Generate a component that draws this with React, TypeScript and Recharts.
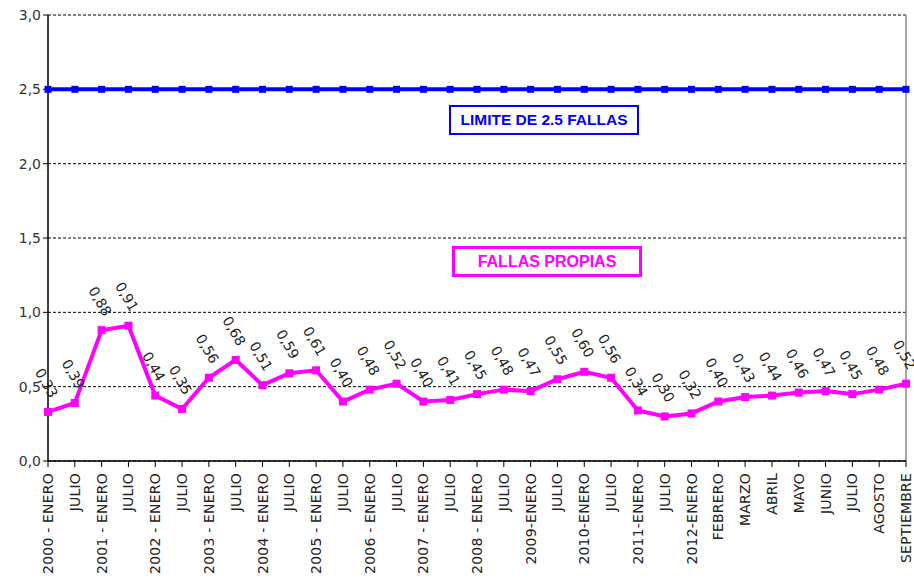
import React from "react";
import { LineChart, Line, XAxis, YAxis, CartesianGrid, ReferenceLine } from "recharts";

const categories = [
  "2000 - ENERO", "JULIO", "2001 - ENERO", "JULIO", "2002 - ENERO", "JULIO",
  "2003 - ENERO", "JULIO", "2004 - ENERO", "JULIO", "2005 - ENERO", "JULIO",
  "2006 - ENERO", "JULIO", "2007 - ENERO", "JULIO", "2008 - ENERO", "JULIO",
  "2009-ENERO", "JULIO", "2010-ENERO", "JULIO", "2011-ENERO", "JULIO",
  "2012-ENERO", "FEBRERO", "MARZO", "ABRIL", "MAYO", "JUNIO", "JULIO",
  "AGOSTO", "SEPTIEMBRE",
];

const fallasPropias = [
  0.33, 0.39, 0.88, 0.91, 0.44, 0.35, 0.56, 0.68, 0.51, 0.59, 0.61, 0.40,
  0.48, 0.52, 0.40, 0.41, 0.45, 0.48, 0.47, 0.55, 0.60, 0.56, 0.34, 0.30,
  0.32, 0.40, 0.43, 0.44, 0.46, 0.47, 0.45, 0.48, 0.52,
];

const limite = [
  2.5, 2.5, 2.5, 2.5, 2.5, 2.5, 2.5, 2.5, 2.5, 2.5, 2.5, 2.5, 2.5, 2.5, 2.5,
  2.5, 2.5, 2.5, 2.5, 2.5, 2.5, 2.5, 2.5, 2.5, 2.5, 2.5, 2.5, 2.5, 2.5, 2.5,
  2.5, 2.5, 2.5,
];

const yTicks = [0, 0.5, 1.0, 1.5, 2.0, 2.5, 3.0];

const data = categories.map((c, i) => ({
  i,
  cat: c,
  propias: fallasPropias[i],
  limite: limite[i],
}));

const FONT = "'DejaVu Sans', sans-serif";

const fmt = (v: number, d: number) => v.toFixed(d).replace(".", ",");

const XTick = (props: any) => {
  const { x, y, payload } = props;
  const label = categories[payload.value];
  return (
    <text
      x={x + 5}
      y={y + 4}
      transform={`rotate(-90, ${x + 5}, ${y + 4})`}
      textAnchor="end"
      fontSize={14}
      letterSpacing={0.2}
      fontFamily={FONT}
      fill="#222"
    >
      {label}
    </text>
  );
};

const SquareDot = (color: string, size: number) => (props: any) => {
  const { cx, cy, index } = props;
  if (cx == null || cy == null) return <g key={index} />;
  return (
    <rect
      key={index}
      x={cx - size / 2}
      y={cy - size / 2}
      width={size}
      height={size}
      fill={color}
    />
  );
};

const DataLabel = (props: any) => {
  const { x, y, value, index } = props;
  const ax = x + 2;
  const ay = y - 13;
  return (
    <text
      key={index}
      x={ax}
      y={ay}
      transform={`rotate(60, ${ax}, ${ay})`}
      textAnchor="end"
      fontSize={14}
      fontFamily={FONT}
      fill="#222"
    >
      {fmt(value, 2)}
    </text>
  );
};

const boxText = {
  position: "absolute" as const,
  boxSizing: "content-box" as const,
  fontFamily: "'Liberation Sans', Arial, sans-serif",
  fontWeight: "bold" as const,
  display: "flex",
  alignItems: "center",
  justifyContent: "center",
  whiteSpace: "nowrap" as const,
};

export default function App() {
  return (
    <div style={{ position: "absolute", left: 0, top: 0, width: 914, height: 579, background: "#fff" }}>
      <LineChart
        width={914}
        height={579}
        data={data}
        margin={{ top: 15, right: 8, left: 0, bottom: 0 }}
      >
        <CartesianGrid
          vertical={false}
          stroke="#000"
          strokeDasharray="3 2"
          strokeWidth={1}
        />
        <XAxis
          dataKey="i"
          type="category"
          height={118}
          interval={0}
          tick={<XTick />}
          tickLine={{ stroke: "#000" }}
          tickSize={6}
          axisLine={{ stroke: "#000", strokeWidth: 1.5 }}
          padding={{ left: 0, right: 0 }}
        />
        <YAxis
          width={48}
          domain={[0, 3]}
          ticks={yTicks}
          interval={0}
          tickFormatter={(v: number) => fmt(v, 1)}
          tick={{ fontSize: 14, fontFamily: FONT, fill: "#333" }}
          tickLine={{ stroke: "#000" }}
          tickSize={5}
          axisLine={{ stroke: "#000", strokeWidth: 1.5 }}
        />
        <ReferenceLine x={32} stroke="#888" strokeWidth={1.5} />
        <Line
          dataKey="limite"
          stroke="#0000FF"
          strokeWidth={4}
          dot={SquareDot("#0000FF", 7)}
          isAnimationActive={false}
        />
        <Line
          dataKey="propias"
          type="linear"
          stroke="#FF00FF"
          strokeWidth={4}
          dot={SquareDot("#FF00FF", 8)}
          label={<DataLabel />}
          isAnimationActive={false}
        />
      </LineChart>
      <div
        style={{
          ...boxText,
          left: 449,
          top: 105,
          width: 186,
          height: 26,
          border: "2px solid #0000FF",
          color: "#0000FF",
          fontSize: 15.5,
        }}
      >
        LIMITE DE 2.5 FALLAS
      </div>
      <div
        style={{
          ...boxText,
          left: 452,
          top: 246,
          width: 184,
          height: 25,
          border: "3px solid #FF00FF",
          color: "#FF00FF",
          fontSize: 16,
        }}
      >
        FALLAS PROPIAS
      </div>
    </div>
  );
}
